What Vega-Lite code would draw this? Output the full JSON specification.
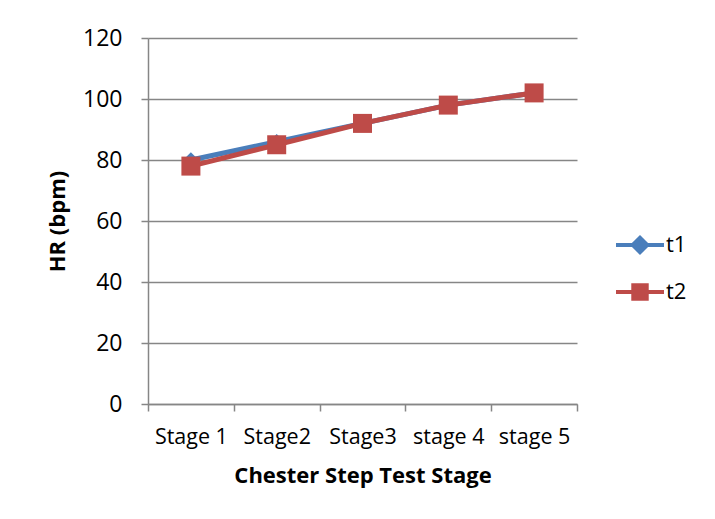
{
  "$schema": "https://vega.github.io/schema/vega-lite/v6.json",
  "width": 429,
  "height": 366,
  "autosize": {"type": "none"},
  "padding": {"left": 148, "top": 38, "right": 138, "bottom": 115},
  "background": "white",
  "config": {"view": {"stroke": null}, "font": "Open Sans"},
  "data": {
    "values": [
      {"stage": "Stage 1", "series": "t1", "hr": 80},
      {"stage": "Stage2", "series": "t1", "hr": 86},
      {"stage": "Stage3", "series": "t1", "hr": 92},
      {"stage": "stage 4", "series": "t1", "hr": 98},
      {"stage": "stage 5", "series": "t1", "hr": 102},
      {"stage": "Stage 1", "series": "t2", "hr": 78},
      {"stage": "Stage2", "series": "t2", "hr": 85},
      {"stage": "Stage3", "series": "t2", "hr": 92},
      {"stage": "stage 4", "series": "t2", "hr": 98},
      {"stage": "stage 5", "series": "t2", "hr": 102}
    ]
  },
  "encoding": {
    "x": {
      "field": "stage",
      "type": "ordinal",
      "sort": null,
      "scale": {"paddingInner": 0, "paddingOuter": 0},
      "axis": {
        "title": "Chester Step Test Stage",
        "titleFontSize": 22,
        "titleFontWeight": "bold",
        "titleColor": "black",
        "titlePadding": 18,
        "labelAngle": 0,
        "labelFontSize": 21.5,
        "labelColor": "black",
        "labelPadding": 15,
        "tickBand": "extent",
        "tickSize": 7,
        "tickColor": "#868686",
        "domainColor": "#868686",
        "domainWidth": 1.5,
        "tickWidth": 1.5,
        "grid": false
      }
    },
    "y": {
      "field": "hr",
      "type": "quantitative",
      "scale": {"domain": [0, 120]},
      "axis": {
        "title": "HR (bpm)",
        "titleFontSize": 22,
        "titleFontWeight": "bold",
        "titleColor": "black",
        "titlePadding": 13,
        "values": [0, 20, 40, 60, 80, 100, 120],
        "labelFontSize": 23,
        "labelColor": "black",
        "labelPadding": 19,
        "tickSize": 7,
        "tickColor": "#868686",
        "domainColor": "#868686",
        "domainWidth": 1.5,
        "tickWidth": 1.5,
        "gridColor": "#868686",
        "gridWidth": 1.5
      }
    },
    "color": {
      "field": "series",
      "type": "nominal",
      "scale": {"domain": ["t1", "t2"], "range": ["#4A7EBB", "#BE4B48"]},
      "legend": {
        "title": null,
        "orient": "none",
        "legendX": 466,
        "legendY": 181,
        "symbolSize": 2304,
        "symbolStrokeWidth": 4,
        "labelFontSize": 22,
        "labelColor": "black",
        "labelOffset": 0,
        "rowPadding": 5,
        "encode": {
          "symbols": {
            "update": {
              "shape": {"signal": "datum.value === 't1' ? 'M-1,0L1,0M-0.3,0L0,-0.3L0.3,0L0,0.3Z' : 'M-1,0L1,0M-0.28,-0.28L0.28,-0.28L0.28,0.28L-0.28,0.28Z'"},
              "fill": {"scale": "color", "field": "value"},
              "stroke": {"scale": "color", "field": "value"},
              "strokeWidth": {"value": 4},
              "size": {"value": 2304},
              "opacity": {"value": 1}
            }
          }
        }
      }
    }
  },
  "layer": [
    {
      "mark": {"type": "line", "strokeWidth": 5}
    },
    {
      "transform": [{"filter": "datum.series === 't1'"}],
      "mark": {"type": "point", "filled": true, "opacity": 1, "shape": "diamond", "size": 240}
    },
    {
      "transform": [{"filter": "datum.series === 't2'"}],
      "mark": {"type": "point", "filled": true, "opacity": 1, "shape": "square", "size": 361}
    }
  ]
}
